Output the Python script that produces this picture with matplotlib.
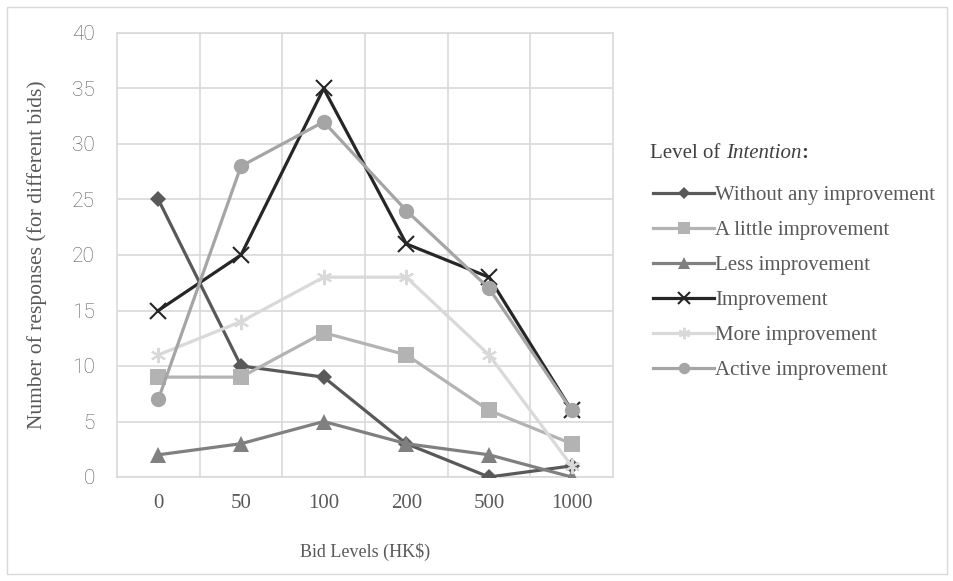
import matplotlib
matplotlib.use("Agg")
import matplotlib.pyplot as plt
import numpy as np

# 데이터
bid_levels = ["0", "50", "100", "200", "500", "1000"]
series_names = ["Without any improvement", "A little improvement", "Less improvement",
                "Improvement", "More improvement", "Active improvement"]
without_any = [25, 10, 9, 3, 0, 1]
a_little = [9, 9, 13, 11, 6, 3]
less_impr = [2, 3, 5, 3, 2, 0]
improvement = [15, 20, 35, 21, 18, 6]
more_impr = [11, 14, 18, 18, 11, 1]
active_impr = [7, 28, 32, 24, 17, 6]

serif = 'Liberation Serif'
txt_color = '#595959'
W, H = 954, 581

fig = plt.figure(figsize=(9.54, 5.81), dpi=100)
ax = fig.add_axes([117 / W, 1 - 477 / H, (613 - 117) / W, (477 - 33) / H])

# 바깥 테두리
fig.patches.append(plt.Rectangle((7 / W, 7 / H), 940 / W, 567 / H,
                                 transform=fig.transFigure, fill=False,
                                 edgecolor='#d9d9d9', linewidth=1))

x = np.arange(len(bid_levels))
values = [without_any, a_little, less_impr, improvement, more_impr, active_impr]
colors = ['#595959', '#b3b3b3', '#808080', '#262626', '#d9d9d9', '#a5a5a5']
markers = ['D', 's', '^', 'x', (6, 2, 0), 'o']
msizes = [8.5, 11, 11, 11, 11, 11]

for name, vals, c, m, ms in zip(series_names, values, colors, markers, msizes):
    edge = 1.5 if name in ("Improvement", "More improvement") else 0
    ax.plot(x, vals, color=c, linewidth=2.3, marker=m, markersize=ms,
            markeredgewidth=edge, label=name, zorder=3)

# 축 설정
ax.set_xlim(-0.5, len(bid_levels) - 0.5)
ax.set_ylim(0, 40)
ax.set_yticks(range(0, 41, 5))
ax.set_xticks(x)
ax.set_xticklabels(bid_levels, fontfamily=serif, fontsize=15, color=txt_color)
ax.set_xticks(np.arange(0.5, len(bid_levels) - 0.5, 1), minor=True)
for lbl in ax.get_yticklabels():
    lbl.set_fontfamily('Roboto')
    lbl.set_fontweight('light')
    lbl.set_fontsize(15)
    lbl.set_color(txt_color)
ax.tick_params(axis='both', which='both', length=0)
ax.tick_params(axis='x', pad=12)
ax.tick_params(axis='y', pad=16)
ax.grid(True, axis='y', which='major', color='#d9d9d9', linewidth=1.2, zorder=0)
ax.grid(True, axis='x', which='minor', color='#d9d9d9', linewidth=1.2, zorder=0)
for sp in ax.spines.values():
    sp.set_color('#d9d9d9')
    sp.set_linewidth(1.2)
ax.set_axisbelow(True)

ax.set_xlabel("Bid Levels (HK$)", fontfamily=serif, fontsize=13, color=txt_color, labelpad=22)
ax.set_ylabel("Number of responses (for different bids)", fontfamily=serif, fontsize=15.5,
              color=txt_color, labelpad=18)

leg = ax.legend(loc='upper left', bbox_to_anchor=(645 / W, 1 - 177 / H),
                bbox_transform=fig.transFigure, frameon=False, borderaxespad=0,
                prop={'family': serif, 'size': 15}, handlelength=2.9,
                handletextpad=0.05, labelspacing=0.74, markerscale=0.75)
for t in leg.get_texts():
    t.set_color(txt_color)

# 범례 제목: 일반 + 기울임 + 굵게
fig.canvas.draw()
r = fig.canvas.get_renderer()
ty = 1 - 153 / H
t1 = fig.text(650 / W, ty, "Level of ", fontfamily=serif, fontsize=15,
              color='#404040', va='center')
x1 = t1.get_window_extent(r).x1 / W
t2 = fig.text(x1, ty, "Intention", fontfamily=serif, fontstyle='italic', fontsize=15,
              color='#404040', va='center')
x2 = t2.get_window_extent(r).x1 / W
fig.text(x2, ty, ":", fontfamily=serif, fontweight='bold', fontsize=15,
         color='#404040', va='center')

fig.savefig("out.png", dpi=100)
